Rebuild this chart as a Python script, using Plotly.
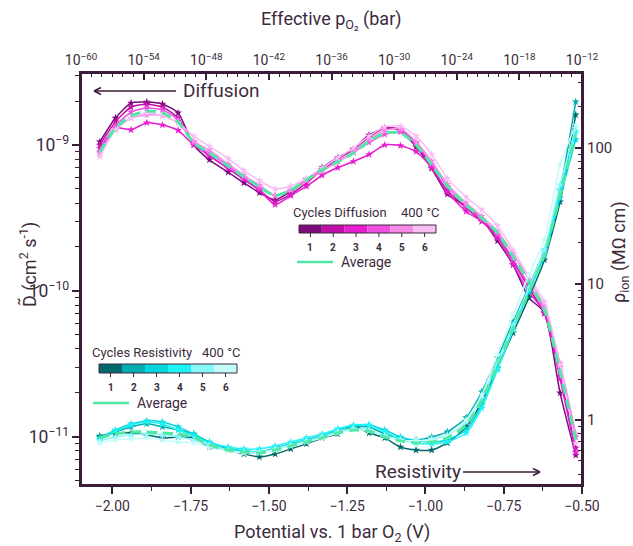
import plotly.graph_objects as go

# ---------------- data ----------------
potential_V = [-2.04, -1.99, -1.94, -1.89, -1.84, -1.79, -1.74, -1.69, -1.63, -1.58,
               -1.53, -1.48, -1.43, -1.38, -1.33, -1.28, -1.23, -1.18, -1.13, -1.08,
               -1.03, -0.98, -0.93, -0.87, -0.82, -0.77, -0.72, -0.67, -0.62, -0.57, -0.52]

# Chemical diffusion coefficient, units of 1e-10 cm^2/s
D_cycle1 = [10.5, 15.3, 19.4, 19.7, 19.1, 16.6, 10.0, 7.9, 6.5, 5.5, 4.7, 4.2, 4.8, 5.75, 7.0, 8.2,
            9.4, 11.7, 13.0, 12.6, 9.7, 6.9, 4.6, 3.8, 3.1, 2.2, 1.51, 0.90, 0.71, 0.20, 0.075]
D_cycle2 = [10.0, 14.4, 18.2, 19.0, 18.2, 15.3, 10.3, 8.4, 6.9, 5.8, 4.9, 4.1, 4.6, 5.5, 6.75, 8.0,
            9.3, 11.3, 13.1, 12.8, 10.3, 7.0, 4.9, 3.7, 3.0, 2.4, 1.6, 1.05, 0.70, 0.26, 0.084]
D_cycle3 = [9.5, 13.1, 12.7, 14.2, 13.7, 12.6, 10.0, 8.5, 6.9, 5.85, 4.9, 3.9, 4.5, 5.2, 6.2, 7.0,
            7.7, 8.6, 10.0, 9.9, 9.0, 7.0, 4.75, 3.5, 3.0, 2.3, 1.52, 0.98, 0.72, 0.25, 0.078]
D_cycle4 = [8.95, 13.5, 16.8, 17.9, 17.4, 14.9, 10.3, 8.8, 7.2, 6.0, 5.1, 4.5, 4.9, 5.8, 6.8, 7.7,
            8.9, 10.4, 11.8, 12.3, 10.2, 7.4, 5.2, 3.8, 3.1, 2.45, 1.65, 1.1, 0.75, 0.30, 0.10]
D_cycle5 = [8.7, 12.7, 15.3, 16.0, 15.9, 14.2, 10.6, 9.2, 7.4, 6.2, 5.3, 4.5, 4.9, 5.7, 6.6, 7.7,
            8.9, 10.9, 12.6, 12.9, 10.5, 7.75, 5.4, 4.0, 3.25, 2.55, 1.8, 1.2, 0.78, 0.32, 0.105]
D_cycle6 = [8.3, 12.7, 15.3, 16.6, 15.9, 14.2, 11.5, 9.8, 8.1, 6.7, 5.7, 5.0, 5.25, 5.9, 6.95, 8.15,
            9.5, 11.5, 13.3, 13.5, 11.5, 8.6, 5.9, 4.4, 3.6, 2.8, 1.9, 1.26, 0.84, 0.31, 0.09]
D_average = [8.95, 13.1, 15.8, 17.1, 16.6, 14.4, 10.3, 8.81, 7.18, 6.04, 5.15, 4.48, 4.92, 5.75, 6.75, 7.66,
             8.81, 10.6, 12.1, 12.1, 10.0, 7.30, 5.24, 3.88, 3.16, 2.49, 1.71, 1.15, 0.741, 0.279, 0.0953]

# Ionic resistivity, MOhm cm
R_cycle1 = [0.762, 0.802, 0.802, 0.776, 0.738, 0.750, 0.738, 0.633, 0.601, 0.562, 0.535, 0.562, 0.613, 0.667,
            0.738, 0.789, 0.904, 0.802, 0.738, 0.633, 0.601, 0.601, 0.678, 0.889, 1.36, 2.41, 4.37, 7.89, 15.0, 40.1, 175]
R_cycle2 = [0.750, 0.817, 0.889, 0.936, 0.889, 0.844, 0.789, 0.678, 0.613, 0.592, 0.582, 0.622, 0.667, 0.713,
            0.762, 0.817, 0.889, 0.889, 0.789, 0.738, 0.713, 0.750, 0.817, 1.04, 1.61, 2.86, 5.26, 9.50, 17.8, 49.1, 218]
R_cycle3 = [0.738, 0.844, 0.936, 0.984, 0.967, 0.889, 0.789, 0.689, 0.622, 0.592, 0.582, 0.613, 0.667, 0.713,
            0.762, 0.844, 0.904, 0.918, 0.844, 0.750, 0.702, 0.689, 0.713, 0.844, 1.29, 2.41, 4.59, 8.73, 16.3, 42.9, 115]
R_cycle4 = [0.713, 0.830, 0.918, 0.967, 0.936, 0.844, 0.762, 0.678, 0.633, 0.613, 0.613, 0.644, 0.689, 0.738,
            0.789, 0.861, 0.918, 0.918, 0.817, 0.726, 0.678, 0.667, 0.689, 0.802, 1.22, 2.33, 4.59, 9.04, 17.2, 47.5, 131]
R_cycle5 = [0.702, 0.750, 0.776, 0.789, 0.776, 0.750, 0.713, 0.655, 0.601, 0.582, 0.582, 0.613, 0.655, 0.702,
            0.750, 0.817, 0.861, 0.844, 0.762, 0.713, 0.702, 0.726, 0.776, 0.967, 1.45, 2.67, 5.00, 9.35, 17.8, 53.5, 140]
R_cycle6 = [0.678, 0.713, 0.726, 0.738, 0.713, 0.689, 0.678, 0.633, 0.592, 0.572, 0.572, 0.601, 0.644, 0.689,
            0.738, 0.802, 0.844, 0.830, 0.762, 0.713, 0.702, 0.713, 0.762, 1.00, 1.53, 3.01, 5.92, 11.6, 21.1, 75.0, 147]
R_average = [0.738, 0.789, 0.817, 0.817, 0.802, 0.789, 0.750, 0.655, 0.601, 0.582, 0.572, 0.601, 0.644, 0.689,
             0.738, 0.802, 0.844, 0.830, 0.750, 0.702, 0.678, 0.689, 0.738, 0.918, 1.40, 2.54, 4.74, 8.73, 16.3, 45.1, 125]

x_ticks = [-2.00, -1.75, -1.50, -1.25, -1.00, -0.75, -0.50]
pO2_exponents = [-60, -54, -48, -42, -36, -30, -24, -18, -12]
rho_ticks = [1, 10, 100]
cycle_labels = ["1", "2", "3", "4", "5", "6"]

diff_colors = ["#7c0b7c", "#c010a8", "#e81cd0", "#f24fe0", "#f68ae8", "#f9bdf3"]
res_colors = ["#006a6a", "#00adb0", "#00d6dc", "#1ef4f6", "#88f8fa", "#c4fcfc"]
avg_color = "#4fe9a5"
ink = "#3d2b3d"
axis_col = "#3a1d3a"
FONT = "Roboto"

D_cycles = [D_cycle1, D_cycle2, D_cycle3, D_cycle4, D_cycle5, D_cycle6]
R_cycles = [R_cycle1, R_cycle2, R_cycle3, R_cycle4, R_cycle5, R_cycle6]

fig = go.Figure()

for vals, col in zip(R_cycles, res_colors):
    fig.add_trace(go.Scatter(x=potential_V, y=vals, yaxis="y2", mode="lines+markers",
                             line=dict(color=col, width=1.5, shape="spline", smoothing=0.6),
                             marker=dict(symbol="star", size=6, color=col), showlegend=False))
fig.add_trace(go.Scatter(x=potential_V, y=R_average, yaxis="y2", mode="lines",
                         line=dict(color=avg_color, width=3, dash="10px,6px", shape="spline", smoothing=0.6),
                         showlegend=False))

for vals, col in zip(D_cycles, diff_colors):
    fig.add_trace(go.Scatter(x=potential_V, y=[v * 1e-10 for v in vals], mode="lines+markers",
                             line=dict(color=col, width=1.5, shape="spline", smoothing=0.6),
                             marker=dict(symbol="star", size=6, color=col), showlegend=False))
fig.add_trace(go.Scatter(x=potential_V, y=[v * 1e-10 for v in D_average], mode="lines",
                         line=dict(color=avg_color, width=3, dash="10px,6px", shape="spline", smoothing=0.6),
                         showlegend=False))

# invisible trace to anchor the top pO2 axis
fig.add_trace(go.Scatter(x=[pO2_exponents[0], pO2_exponents[-1]], y=[None, None], xaxis="x2",
                         mode="markers", marker=dict(opacity=0), hoverinfo="skip", showlegend=False))

# ---------------- layout helpers ----------------
L, R, T, B = 81, 582, 73, 485
W, H = 633, 546


def px(x):
    return (x - L) / (R - L)


def py(y):
    return (B - y) / (B - T)


shapes = []
annotations = []


def line(x0, y0, x1, y1, color=axis_col, width=1.3):
    shapes.append(dict(type="line", xref="paper", yref="paper", x0=px(x0), y0=py(y0),
                       x1=px(x1), y1=py(y1), line=dict(color=color, width=width)))


# plot frame drawn as four explicit lines
line(L, T, R, T, width=2)
line(L, B, R, B, width=2)
line(L, T, L, B, width=2)
line(R, T, R, B, width=2)


def text(x, y, s, size=13, xanchor="left", color=ink):
    annotations.append(dict(xref="paper", yref="paper", x=px(x), y=py(y), text=s, showarrow=False,
                            xanchor=xanchor, yanchor="middle", font=dict(size=size, color=color, family=FONT)))


def cycle_legend(x0, x1, ytop, ybot, colors, title, title_x, title_y, label_y, avg_x0, avg_y):
    w = (x1 - x0) / len(colors)
    for i, c in enumerate(colors):
        shapes.append(dict(type="rect", xref="paper", yref="paper", x0=px(x0 + i * w), x1=px(x0 + (i + 1) * w),
                           y0=py(ybot), y1=py(ytop), fillcolor=c, line=dict(width=0)))
        cx = x0 + (i + 0.5) * w
        line(cx, ybot, cx, ybot + 4, color=ink, width=1)
        text(cx, label_y, "<b>" + cycle_labels[i] + "</b>", size=10, xanchor="center")
    shapes.append(dict(type="rect", xref="paper", yref="paper", x0=px(x0), x1=px(x1),
                       y0=py(ybot), y1=py(ytop), line=dict(color=ink, width=1)))
    text(title_x, title_y, title, size=13)
    text(x1 + 5, title_y, "400 °C", size=13, xanchor="right")
    line(avg_x0, avg_y, avg_x0 + 36, avg_y, color=avg_color, width=2.5)
    text(avg_x0 + 42, avg_y, "Average", size=14)


cycle_legend(299, 436, 225, 233, diff_colors, "Cycles Diffusion", 291, 213, 247, 297, 262)
cycle_legend(99, 237, 364, 373, res_colors, "Cycles Resistivity", 90, 353, 387, 93, 403)

# Diffusion arrow (pointing left)
line(94, 91, 176, 91, width=1.5)
line(94, 91, 101, 87.5, width=1.5)
line(94, 91, 101, 94.5, width=1.5)
text(181, 90, "Diffusion", size=19)

# Resistivity arrow (pointing right)
line(463, 472, 540, 472, width=1.5)
line(540, 472, 533, 468.5, width=1.5)
line(540, 472, 533, 475.5, width=1.5)
text(373, 471, "Resistivity", size=19)

# axis titles
text((L + R) / 2, 533, "Potential vs. 1 bar O<sub>2</sub> (V)", size=18, xanchor="center")
text((L + R) / 2, 20, "Effective p<sub>O₂</sub> (bar)", size=18, xanchor="center")
annotations.append(dict(xref="paper", yref="paper", x=px(28), y=py(265), text="D\u0303 (cm<sup>2</sup> s<sup>-1</sup>)",
                        showarrow=False, textangle=-90, xanchor="center", yanchor="middle",
                        font=dict(size=18, color=ink, family=FONT)))
annotations.append(dict(xref="paper", yref="paper", x=px(620), y=py(252), text="ρ<sub>ion</sub> (MΩ cm)",
                        showarrow=False, textangle=-90, xanchor="center", yanchor="middle",
                        font=dict(size=18, color=ink, family=FONT)))

tickfont = dict(size=14, color=ink, family=FONT)

fig.update_layout(
    width=W, height=H,
    margin=dict(l=L, r=W - R, t=T, b=H - B, autoexpand=False),
    paper_bgcolor="white", plot_bgcolor="white",
    font=dict(family=FONT, color=ink),
    shapes=shapes, annotations=annotations,
    xaxis=dict(range=[-2.1, -0.5], tickvals=x_ticks, tickformat=".2f", ticks="outside", ticklen=7,
               tickwidth=1.6, tickcolor=axis_col, showline=True, linecolor=axis_col, linewidth=2,
               showgrid=False, zeroline=False, tickfont=tickfont,
               minor=dict(dtick=0.125, tick0=-2.0, ticks="outside", ticklen=4, tickwidth=1.3,
                          tickcolor=axis_col, showgrid=False)),
    xaxis2=dict(overlaying="x", side="top", range=[pO2_exponents[0], pO2_exponents[-1]],
                tickvals=pO2_exponents, ticktext=["10<sup>\u2212%d</sup>" % abs(e) for e in pO2_exponents],
                ticks="inside", ticklen=7, tickwidth=1.6, tickcolor=axis_col, showline=True,
                linecolor=axis_col, linewidth=2,
                showgrid=False, zeroline=False, tickfont=tickfont,
                minor=dict(dtick=1, ticks="inside", ticklen=4, tickwidth=1.3, tickcolor=axis_col, showgrid=False)),
    yaxis=dict(type="log", range=[-11.33, -8.507], dtick=1, exponentformat="power", ticks="outside",
               ticklen=7, tickwidth=1.6, tickcolor=axis_col, showline=True, linecolor=axis_col, linewidth=2,
               showgrid=False, zeroline=False, tickfont=tickfont,
               minor=dict(dtick="D1", ticks="outside", ticklen=4, tickwidth=1.3, tickcolor=axis_col, showgrid=False)),
    yaxis2=dict(type="log", overlaying="y", side="right", range=[-0.478, 2.55], tickvals=rho_ticks,
                ticktext=[str(v) for v in rho_ticks], ticks="inside", ticklen=7, tickwidth=1.6,
                tickcolor=axis_col, showline=True, linecolor=axis_col, linewidth=2, showgrid=False,
                zeroline=False, tickfont=dict(size=15, color=ink, family=FONT),
                minor=dict(dtick="D1", ticks="inside", ticklen=4, tickwidth=1.3, tickcolor=axis_col, showgrid=False)),
)

fig.write_html("out.html", config={"displayModeBar": False},
               post_script="document.body.style.margin='0';document.body.style.overflow='hidden';")
